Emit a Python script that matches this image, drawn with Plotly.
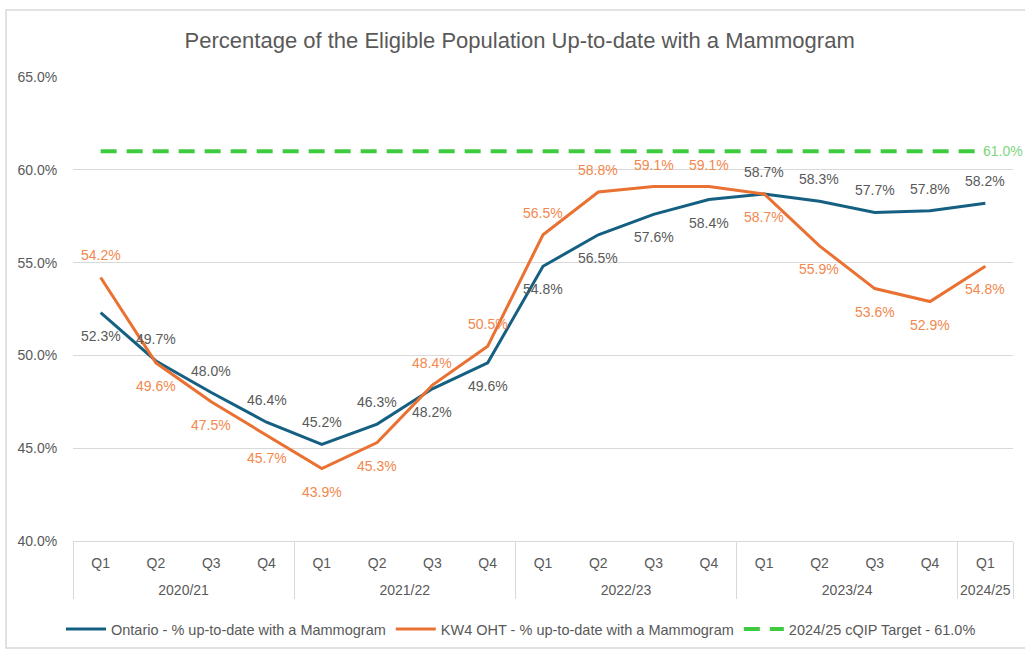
import plotly.graph_objects as go

years = ["2020/21"] * 4 + ["2021/22"] * 4 + ["2022/23"] * 4 + ["2023/24"] * 4 + ["2024/25"]
quarters = ["Q1", "Q2", "Q3", "Q4"] * 4 + ["Q1"]
ontario = [52.3, 49.7, 48.0, 46.4, 45.2, 46.3, 48.2, 49.6, 54.8, 56.5, 57.6, 58.4, 58.7, 58.3, 57.7, 57.8, 58.2]
kw4 = [54.2, 49.6, 47.5, 45.7, 43.9, 45.3, 48.4, 50.5, 56.5, 58.8, 59.1, 59.1, 58.7, 55.9, 53.6, 52.9, 54.8]
target = [61.0] * 17

# label placement (style): "a" = above, "b" = below
ont_pos = list("baaaaabbbbbbaaaaa")
kw_pos = list("abbbbbaaaaaabbbbb")

BLUE = "#156082"
ORANGE = "#E97132"
ORANGE_TXT = "#F2884E"
GREEN = "#3FCB3F"
GRAY = "#595959"
FONT = "Liberation Sans"

# outer level shown one line lower (display only)
year_labels = ["<br>" + y for y in years]
x = [year_labels, quarters]

fig = go.Figure()
fig.add_trace(go.Scatter(x=x, y=ontario, mode="lines", name="Ontario - % up-to-date with a Mammogram",
                         line=dict(color=BLUE, width=3)))
fig.add_trace(go.Scatter(x=x, y=kw4, mode="lines", name="KW4 OHT - % up-to-date with a Mammogram",
                         line=dict(color=ORANGE, width=3)))
fig.add_trace(go.Scatter(x=x, y=target, mode="lines", name="2024/25 cQIP Target - 61.0%",
                         line=dict(color=GREEN, width=4, dash="16px,10px")))

def shift(p):
    return 22 if p == "a" else -23

annotations = []
for i in range(len(ontario)):
    annotations.append(dict(x=[year_labels[i], quarters[i]], y=ontario[i], text=f"{ontario[i]:.1f}%",
                            showarrow=False, yshift=shift(ont_pos[i]),
                            font=dict(color=GRAY, size=14, family=FONT)))
    annotations.append(dict(x=[year_labels[i], quarters[i]], y=kw4[i], text=f"{kw4[i]:.1f}%",
                            showarrow=False, yshift=shift(kw_pos[i]),
                            font=dict(color=ORANGE_TXT, size=14, family=FONT)))
annotations.append(dict(x=[year_labels[-1], quarters[-1]], y=target[-1], text=f"{target[-1]:.1f}%",
                        showarrow=False, xanchor="left", xshift=-4,
                        font=dict(color="#7FD67F", size=14, family=FONT)))

fig.update_layout(
    width=1025, height=651,
    margin=dict(l=73, r=12, t=77, b=110, autoexpand=False),
    paper_bgcolor="white", plot_bgcolor="white",
    title=dict(text="Percentage of the Eligible Population Up-to-date with a Mammogram",
               x=0.507, xanchor="center", y=1 - 40 / 651, yanchor="middle",
               font=dict(family=FONT, size=22, color=GRAY)),
    font=dict(family=FONT, color=GRAY, size=14),
    showlegend=True,
    legend=dict(orientation="h", x=(521 - 73) / 940, xanchor="center", y=-(629 - 541) / 464, yanchor="middle",
                font=dict(size=14.5, color=GRAY), itemwidth=40, tracegroupgap=0),
    annotations=annotations,
    shapes=[dict(type="rect", xref="paper", yref="paper",
                 x0=(6 - 73) / 940, x1=(1030 - 73) / 940,
                 y0=(541 - 648) / 464, y1=(541 - 10) / 464,
                 line=dict(color="#D9D9D9", width=1.5), layer="below")],
)
fig.update_yaxes(range=[40, 65], dtick=5, tickformat=".1f", ticksuffix="%",
                 showgrid=True, gridcolor="#D9D9D9", gridwidth=1, zeroline=False,
                 tickfont=dict(size=14, color=GRAY), ticks="outside", ticklen=12,
                 tickcolor="rgba(0,0,0,0)", showline=False, automargin=False)
fig.update_xaxes(type="multicategory", range=[-0.5, len(quarters) - 0.5],
                 showline=True, linecolor="#D9D9D9", linewidth=1,
                 showdividers=True, dividercolor="#D9D9D9", dividerwidth=1,
                 ticklabelstandoff=9,
                 tickfont=dict(size=14, color=GRAY), showgrid=False, automargin=False)

fig.write_html("out.html", config={"displayModeBar": False},
               post_script="document.body.style.margin='0';")
